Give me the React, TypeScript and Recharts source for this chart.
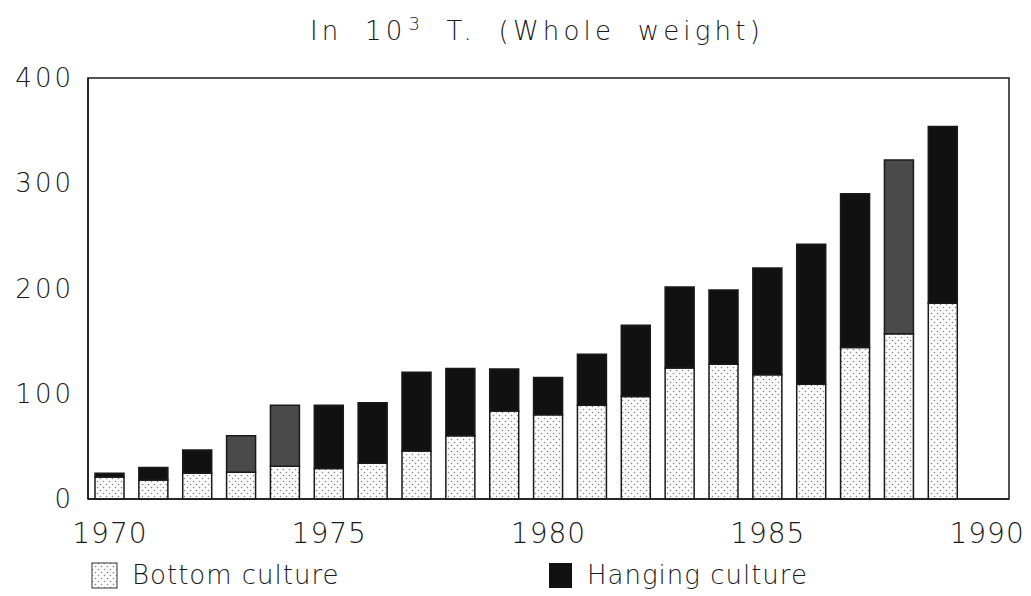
import React from 'react';
import { BarChart, Bar, XAxis, YAxis, Cell, ReferenceArea, Legend } from 'recharts';

// Oyster production, thousand tonnes (whole weight)
const years = [1970, 1971, 1972, 1973, 1974, 1975, 1976, 1977, 1978, 1979, 1980, 1981, 1982, 1983, 1984, 1985, 1986, 1987, 1988, 1989];
const bottomCulture = [21, 18, 24.5, 25.5, 31, 29, 34, 45.5, 60, 83.5, 80, 89, 97.5, 124.5, 128, 118, 109, 144, 157, 186];
const hangingCulture = [3.5, 12, 22, 34.5, 58, 60, 57.5, 75, 64, 40, 35.5, 48.5, 67.5, 77, 70.5, 101.5, 133, 146, 165, 168];
const yTicks = [0, 100, 200, 300, 400];
const xTicks = [1970, 1975, 1980, 1985, 1990];

// scans of these bars came out greyer than the rest
const greyYears = [1973, 1974, 1988];

const data = years.map((year, i) => ({
  year,
  bottom: bottomCulture[i],
  hanging: hangingCulture[i],
}));

const FONT = '"DejaVu Sans", sans-serif';
const INK = '#1a1a1a';

const LegendContent = () => (
  <div style={{ position: 'relative', width: 1031, height: 34, fontFamily: FONT, fontSize: 26, fontWeight: 200, color: INK, letterSpacing: 1 }}>
    <div style={{ position: 'absolute', left: 91, top: 2, display: 'flex', alignItems: 'center' }}>
      <svg width={27} height={27} style={{ marginRight: 14 }}>
        <rect x={1} y={1} width={25} height={25} fill="url(#dots)" stroke="#555" strokeWidth={1.2} />
      </svg>
      <span>Bottom culture</span>
    </div>
    <div style={{ position: 'absolute', left: 548, top: 2, display: 'flex', alignItems: 'center' }}>
      <svg width={25} height={27} style={{ marginRight: 14 }}>
        <rect x={1} y={1} width={23} height={25} fill="#111" />
      </svg>
      <span>Hanging culture</span>
    </div>
  </div>
);

export default function App() {
  return (
    <div style={{ position: 'absolute', left: 0, top: 0, width: 1031, height: 596, background: '#fff' }}>
      <div style={{ position: 'absolute', left: 310, top: 13, fontFamily: FONT, fontSize: 26, fontWeight: 200, color: INK, letterSpacing: 4.2, wordSpacing: 10, whiteSpace: 'nowrap' }}>
        In 10<span style={{ fontSize: 18, verticalAlign: 10, marginLeft: 2 }}>3</span> T. (Whole weight)
      </div>
      <BarChart
        width={1031}
        height={596}
        data={data}
        margin={{ top: 78, right: 22, bottom: 37, left: 0 }}
        barSize={29}
      >
        <defs>
          <pattern id="dots" width={6} height={6} patternUnits="userSpaceOnUse">
            <rect width={6} height={6} fill="#fbfbfb" />
            <circle cx={1.5} cy={1.5} r={0.8} fill="#8a8a8a" />
            <circle cx={4.5} cy={4.5} r={0.8} fill="#8a8a8a" />
          </pattern>
        </defs>
        <XAxis
          dataKey="year"
          type="number"
          domain={[1969.5, 1990.5]}
          ticks={xTicks}
          tickLine={false}
          tickSize={0}
          tickMargin={24}
          height={60}
          axisLine={{ stroke: INK, strokeWidth: 1.5 }}
          tick={{ fontFamily: FONT, fontSize: 28, fontWeight: 200, fill: INK, letterSpacing: 1 }}
        />
        <YAxis
          domain={[0, 400]}
          ticks={yTicks}
          width={88}
          tickLine={false}
          tickSize={0}
          tickMargin={14}
          axisLine={{ stroke: INK, strokeWidth: 1.5 }}
          tick={{ fontFamily: FONT, fontSize: 26, fontWeight: 200, fill: INK, letterSpacing: 3 }}
        />
        <ReferenceArea x1={1969.5} x2={1990.5} y1={0} y2={400} fill="none" stroke={INK} strokeWidth={1.5} ifOverflow="visible" />
        <Bar dataKey="bottom" name="Bottom culture" stackId="a" fill="url(#dots)" stroke={INK} strokeWidth={1.5} isAnimationActive={false} />
        <Bar dataKey="hanging" name="Hanging culture" stackId="a" stroke={INK} strokeWidth={1.5} isAnimationActive={false}>
          {data.map((d) => (
            <Cell key={d.year} fill={greyYears.includes(d.year) ? '#4a4a4a' : '#111'} />
          ))}
        </Bar>
        <Legend
          layout="horizontal"
          verticalAlign="middle"
          align="center"
          content={LegendContent}
          wrapperStyle={{ position: 'absolute', left: 0, top: 558, width: 1031 }}
        />
      </BarChart>
    </div>
  );
}
